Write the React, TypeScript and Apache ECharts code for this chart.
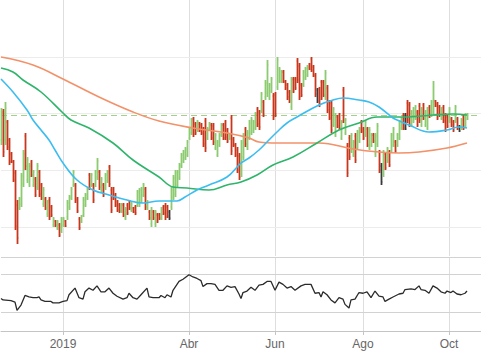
import React, { useEffect, useRef } from "react";
import * as echarts from "echarts";

// ordinal (trading-day) slots; month-start ticks
const SLOT_COUNT = 241;
const TICK_INDEX = [31, 94, 137, 181, 224];
const TICK_LABELS = ["2019", "Abr", "Jun", "Ago", "Oct"];

// [open, high, low, close]
const OHLC: number[][] = [
  [12.0,15.2,11.5,14.6],[14.8,15.1,10.3,10.8],[12.0,15.8,11.5,15.2],[13.8,14.0,11.0,11.3],[12.0,12.2,9.5,9.8],
  [10.6,10.8,9.7,9.9],[9.8,10.0,7.8,8.0],[8.7,9.0,3.0,3.4],[5.5,6.0,1.6,2.2],[5.2,6.3,5.0,6.1],
  [5.6,8.7,5.3,8.4],[7.6,11.0,7.3,10.6],[12.4,12.7,9.0,9.4],[8.0,10.3,7.7,10.0],[7.6,9.7,7.3,9.4],
  [9.8,10.0,8.3,8.5],[7.5,9.0,7.3,8.8],[8.1,8.3,6.3,6.5],[7.3,9.7,7.0,9.4],[8.8,9.0,6.3,6.6],
  [7.5,7.7,6.0,6.2],[5.6,7.3,5.3,7.0],[6.1,6.3,5.0,5.2],[4.6,6.0,4.3,5.8],[6.0,6.3,4.0,4.3],
  [5.3,5.5,4.3,4.5],[3.5,4.3,3.3,4.1],[3.9,4.0,3.3,3.5],[3.2,4.0,3.0,3.8],[3.5,3.7,2.3,2.5],
  [3.0,4.3,2.7,4.1],[3.5,4.3,3.3,4.1],[3.9,4.0,3.3,3.4],[4.3,6.0,4.0,5.7],[5.3,6.5,5.0,6.3],
  [6.2,7.3,6.0,7.1],[7.5,9.0,7.3,8.8],[7.5,7.7,5.7,6.0],[6.1,6.3,4.7,4.9],[4.1,4.3,3.0,3.2],
  [3.8,4.5,3.7,4.4],[4.5,6.3,4.3,6.0],[5.5,6.7,5.3,6.5],[6.2,7.3,6.0,7.1],[8.5,8.7,7.0,7.2],
  [7.5,8.7,7.3,8.5],[7.5,7.7,5.7,6.0],[7.5,9.0,7.3,8.8],[8.3,10.2,8.0,9.9],[8.8,9.0,7.0,7.3],
  [6.9,8.3,6.7,8.1],[7.5,7.7,6.3,6.5],[7.2,8.7,7.0,8.5],[7.9,9.0,7.7,8.8],[9.3,9.5,7.3,7.6],
  [7.0,7.3,4.7,5.0],[7.1,7.3,6.0,6.2],[6.5,6.7,5.3,5.5],[5.8,6.0,4.8,5.0],[5.5,5.7,4.7,4.9],
  [4.9,5.7,4.7,5.5],[5.5,5.7,4.3,4.5],[4.2,5.3,4.0,5.1],[5.5,5.7,4.5,4.7],[5.8,6.0,5.0,5.2],
  [5.0,5.8,4.8,5.6],[5.2,5.3,4.7,4.8],[5.3,5.5,4.5,4.7],[5.5,7.0,5.3,6.8],[5.6,7.2,5.3,7.0],
  [5.9,7.3,5.7,7.1],[6.5,7.7,6.3,7.5],[7.1,7.3,5.0,5.3],[5.2,6.0,5.0,5.8],[4.8,5.0,4.0,4.2],
  [3.6,5.3,3.3,5.0],[4.8,5.0,4.0,4.2],[3.6,5.0,3.3,4.8],[4.5,4.7,3.7,3.9],[4.5,4.7,4.0,4.2],
  [4.2,5.3,4.0,5.1],[5.3,5.5,4.5,4.7],[5.4,5.7,4.0,4.3],[5.3,5.5,4.2,4.4],[4.8,5.0,4.0,4.2],
  [5.3,7.3,5.0,7.0],[6.3,8.5,6.0,8.2],[6.6,9.0,6.3,8.7],[7.5,9.0,7.3,8.8],[8.2,9.7,8.0,9.5],
  [9.4,10.7,9.2,10.5],[9.9,11.0,9.7,10.8],[10.2,11.3,10.0,11.1],[10.5,12.0,10.3,11.8],[12.2,13.3,12.0,13.1],
  [12.7,14.2,12.5,14.0],[14.1,14.3,12.3,12.6],[13.6,13.8,12.5,12.7],[13.0,14.0,12.8,13.8],[13.6,13.8,12.8,13.0],
  [13.5,13.7,12.5,12.7],[13.1,13.3,11.3,11.6],[13.9,14.2,10.8,11.2],[12.2,13.3,12.0,13.1],[13.1,13.8,13.0,13.7],
  [13.5,13.7,12.0,12.2],[13.4,13.7,11.5,11.8],[11.2,12.7,11.0,12.5],[10.5,12.0,10.3,11.8],[11.5,12.7,11.3,12.5],
  [12.5,13.7,12.3,13.5],[13.5,13.7,12.0,12.2],[13.8,14.0,12.0,12.3],[13.0,13.2,11.7,11.9],[12.1,12.7,12.0,12.6],
  [14.2,14.5,10.5,10.9],[12.1,12.3,11.3,11.5],[11.5,11.7,10.3,10.5],[11.0,11.3,8.7,9.0],[10.4,10.7,8.0,8.3],
  [8.6,12.0,8.3,11.7],[10.3,12.7,10.0,12.4],[13.1,13.3,11.3,11.6],[11.3,13.0,11.0,12.7],[12.3,14.0,12.0,13.7],
  [12.7,14.3,12.5,14.0],[12.9,14.0,12.7,13.8],[13.2,14.8,13.0,14.6],[15.1,15.3,13.3,13.6],[14.8,15.0,13.0,13.3],
  [14.9,16.8,14.7,16.6],[15.8,16.0,14.3,14.5],[16.3,18.0,16.0,17.7],[16.7,20.0,16.3,19.5],[16.2,17.7,16.0,17.5],
  [16.9,18.3,16.7,18.1],[16.4,16.7,14.0,14.3],[16.5,16.8,14.3,14.6],[17.3,20.3,17.0,20.0],[17.9,19.3,17.7,19.1],
  [17.9,19.0,17.7,18.8],[18.8,19.0,17.7,17.9],[17.8,18.0,17.0,17.2],[17.5,17.7,16.0,16.3],[16.8,17.0,15.7,15.9],
  [15.3,18.3,15.0,18.0],[18.1,18.3,16.7,16.9],[18.1,18.3,17.0,17.2],[19.9,20.2,17.7,18.0],[19.4,19.7,16.0,16.3],
  [17.5,17.7,16.3,16.5],[17.5,19.0,17.3,18.8],[18.2,19.3,18.0,19.1],[18.5,19.5,18.3,19.3],[19.6,19.7,19.0,19.1],
  [20.1,20.3,18.8,19.0],[19.3,19.5,18.3,18.5],[18.4,18.7,16.3,16.6],[17.0,17.2,15.7,15.9],[17.1,17.3,15.3,15.6],
  [17.8,18.0,16.0,16.2],[17.8,18.0,16.3,16.5],[16.3,19.0,16.0,18.7],[17.2,17.5,14.7,15.0],[15.8,16.0,14.0,14.2],
  [15.7,16.0,12.7,13.0],[13.5,15.3,13.3,15.1],[12.5,14.7,12.3,14.4],[14.3,14.5,13.2,13.4],[14.5,14.7,13.0,13.2],
  [12.2,14.0,12.0,13.8],[17.0,17.3,13.7,14.0],[12.7,14.2,12.5,14.0],[11.4,11.7,8.3,8.7],[12.2,12.5,10.0,10.3],
  [10.9,12.7,10.7,12.5],[10.5,12.0,10.3,11.8],[12.4,12.7,9.7,10.0],[11.2,13.0,11.0,12.8],[11.9,13.3,11.7,13.1],
  [13.8,14.0,12.7,12.9],[13.1,13.3,12.0,12.2],[12.5,14.0,12.3,13.8],[13.1,13.3,11.3,11.5],[11.2,13.3,11.0,13.0],
  [11.5,12.7,11.3,12.5],[12.5,12.7,11.7,11.9],[10.6,12.7,10.3,12.4],[11.6,13.7,11.3,13.4],[10.8,11.0,8.7,9.0],
  [9.4,9.7,7.5,7.8],[8.6,11.0,8.3,10.7],[10.6,10.8,9.0,9.2],[9.9,11.3,9.7,11.1],[10.8,11.0,9.3,9.5],
  [10.9,12.7,10.7,12.5],[11.5,13.3,11.3,13.1],[11.8,12.0,10.7,10.9],[11.5,12.7,11.3,12.5],[12.2,14.0,12.0,13.8],
  [13.2,14.3,13.0,14.1],[14.5,14.7,13.0,13.2],[14.5,14.7,13.0,13.1],[15.7,16.0,13.7,14.0],[15.5,15.8,13.3,13.6],
  [13.5,15.0,13.3,14.8],[13.9,15.3,13.7,15.1],[14.2,15.5,14.0,15.3],[14.8,15.0,13.3,13.5],[15.4,15.7,13.7,14.0],
  [13.5,15.3,13.3,15.1],[15.5,15.7,14.0,14.2],[13.5,15.0,13.3,14.8],[13.2,15.3,13.0,15.0],[15.3,15.5,14.2,14.4],
  [14.5,16.0,14.3,15.8],[14.8,17.9,14.5,16.0],[15.9,16.0,15.3,15.4],[15.6,15.8,14.0,14.2],[15.3,15.5,14.3,14.5],
  [14.2,15.3,14.0,15.1],[15.3,15.5,13.7,13.9],[14.5,14.7,12.8,13.0],[14.3,14.5,13.2,13.4],[13.9,15.3,13.7,15.1],
  [14.1,14.3,13.3,13.5],[13.8,14.0,12.8,13.0],[13.9,15.5,13.7,15.3],[14.1,14.3,13.0,13.2],[13.4,13.5,12.8,12.9],
  [13.2,14.2,13.0,14.0],[14.3,14.5,13.0,13.2],[13.4,14.7,13.2,14.5],[14.1,14.7,14.0,14.5],
];
const DARK_BARS = [84, 158, 190, 202, 229];

// moving averages: [slot, value]
const SMA_FAST = [
  [0,18.1],[6,16.8],[13,15.0],[16,14.0],[20,13.0],[24,12.0],[27,11.0],[31,9.7],[38,8.0],[46,7.0],
  [54,6.5],[63,6.0],[71,5.7],[79,5.9],[88,5.9],[92,6.3],[98,7.0],[104,7.5],[113,8.3],[120,9.7],
  [124,10.2],[129,11.0],[133,11.8],[138,12.8],[143,13.7],[148,14.3],[159,15.5],[166,16.0],[171,16.2],
  [179,16.0],[184,15.8],[189,15.3],[196,14.2],[198,14.0],[204,13.5],[214,12.8],[223,13.0],[229,13.3],[233,13.2],
];
const SMA_MID = [
  [0,19.2],[6,18.8],[11,18.0],[20,16.8],[31,14.7],[35,14.0],[44,13.2],[56,11.7],[66,10.0],[79,8.3],
  [86,7.3],[93,7.2],[104,7.0],[113,7.5],[120,7.8],[128,8.5],[136,9.5],[146,10.3],[158,11.7],[169,13.0],
  [179,13.7],[188,14.3],[201,14.3],[216,14.5],[226,14.6],[233,14.5],
];
const SMA_SLOW = [
  [0,20.3],[16,19.5],[31,18.1],[49,16.3],[66,14.8],[79,13.9],[96,13.2],[113,12.7],[124,12.2],[129,11.8],
  [138,11.7],[159,11.7],[176,11.1],[189,10.8],[199,10.7],[209,10.8],[223,11.2],[233,11.7],
];
const LAST_PRICE = 14.5;
const PRICE_GRID = [3.3, 9.0, 14.7, 20.3];

// oscillator (lower pane): [slot, value]
const OSC = [
  [0,44],[1,42],[5,41],[7,39],[8,28],[10,35],[12,48],[14,46],[16,45],[18,45],[19,46],[20,42],[22,40],
  [25,40],[26,38],[29,38],[31,40],[33,41],[34,49],[37,58],[39,45],[41,43],[42,53],[44,58],[46,55],
  [48,61],[50,53],[52,53],[54,58],[56,51],[58,47],[61,43],[63,45],[64,51],[66,45],[68,43],[70,49],
  [73,58],[74,46],[76,45],[79,45],[80,48],[82,45],[83,49],[85,46],[86,55],[89,67],[91,70],[94,76],
  [96,73],[98,71],[100,68],[101,60],[103,64],[105,64],[107,63],[109,55],[111,55],[113,61],[115,59],
  [117,60],[119,50],[120,44],[121,52],[123,54],[125,59],[127,55],[129,62],[131,63],[133,67],[135,67],
  [137,55],[139,66],[141,63],[143,58],[145,60],[147,55],[150,61],[152,63],[155,63],[157,51],[159,52],
  [160,46],[161,53],[163,49],[165,42],[167,38],[169,45],[171,43],[172,36],[174,31],[175,42],[177,43],
  [179,52],[181,51],[183,53],[185,45],[187,54],[189,47],[191,46],[192,40],[194,43],[196,46],[199,50],
  [201,51],[202,56],[205,57],[207,56],[209,61],[210,56],[212,55],[214,51],[216,61],[218,58],[220,53],
  [222,51],[223,54],[225,52],[226,54],[228,50],[230,49],[232,51],[233,54],
];
const OSC_GRID = [26, 77, 100];

const UP = "#8ccb70";
const DOWN = "#c8361b";
const DARK = "#3a3a3a";

export default function App() {
  const ref = useRef<HTMLDivElement>(null);
  useEffect(() => {
    if (!ref.current) return;
    const chart = echarts.init(ref.current, undefined, { renderer: "svg" });
    const cats = Array.from({ length: SLOT_COUNT }, (_, i) => String(i));
    const isTick = (i: number) => TICK_INDEX.includes(i);
    const bars = OHLC.map((r, i) => [i, r[0], r[1], r[2], r[3], DARK_BARS.includes(i) ? 1 : 0]);
    const font = "'Liberation Sans', Arial, Helvetica, sans-serif";

    chart.setOption({
      animation: false,
      backgroundColor: "#ffffff",
      grid: [
        { left: 1, right: 0, top: 0, height: 256 },
        { left: 1, right: 0, top: 257, height: 74 },
      ],
      xAxis: [
        {
          type: "category", gridIndex: 0, data: cats, boundaryGap: false,
          axisLine: { show: false }, axisTick: { show: false }, axisLabel: { show: false },
          splitLine: { show: true, interval: (i: number) => isTick(i), lineStyle: { color: "#dedede", width: 1 } },
        },
        {
          type: "category", gridIndex: 1, data: cats, boundaryGap: false,
          axisLine: { show: true, lineStyle: { color: "#c4c4c4", width: 1 } },
          axisTick: { show: true, interval: (i: number) => isTick(i), length: 4, lineStyle: { color: "#c4c4c4" } },
          axisLabel: {
            show: true, interval: (i: number) => isTick(i), color: "#666666", fontSize: 12, margin: 7,
            fontFamily: font,
            formatter: (v: string) => {
              const k = TICK_INDEX.indexOf(Number(v));
              return k >= 0 ? TICK_LABELS[k] : "";
            },
          },
          splitLine: { show: true, interval: (i: number) => isTick(i), lineStyle: { color: "#dedede", width: 1 } },
        },
      ],
      yAxis: [
        { type: "value", gridIndex: 0, min: 0.4, max: 26, axisLine: { show: false }, axisTick: { show: false }, axisLabel: { show: false }, splitLine: { show: false } },
        { type: "value", gridIndex: 1, min: 0, max: 100, axisLine: { show: false }, axisTick: { show: false }, axisLabel: { show: false }, splitLine: { show: false } },
      ],
      series: [
        {
          type: "custom", name: "OHLC", xAxisIndex: 0, yAxisIndex: 0, z: 2,
          data: bars,
          encode: { x: 0, y: [1, 2, 3, 4] },
          renderItem: (_p: any, api: any) => {
            const idx = api.value(0);
            const o = api.value(1), h = api.value(2), l = api.value(3), c = api.value(4);
            const dark = api.value(5);
            const pH = api.coord([idx, h]);
            const pL = api.coord([idx, l]);
            const pO = api.coord([idx, o]);
            const pC = api.coord([idx, c]);
            const color = dark ? DARK : c >= o ? UP : DOWN;
            const x = Math.round(pH[0]) + 0.5;
            return {
              type: "group",
              children: [
                { type: "line", shape: { x1: x, y1: pH[1], x2: x, y2: pL[1] }, style: { stroke: color, lineWidth: 1.8 } },
                { type: "line", shape: { x1: x - 1, y1: pO[1], x2: x, y2: pO[1] }, style: { stroke: color, lineWidth: 1, opacity: 0.6 } },
                { type: "line", shape: { x1: x, y1: pC[1], x2: x + 1, y2: pC[1] }, style: { stroke: color, lineWidth: 1, opacity: 0.6 } },
              ],
            };
          },
        },
        {
          type: "line", name: "SMA200", xAxisIndex: 0, yAxisIndex: 0, z: 3,
          data: SMA_SLOW, smooth: 0.4, showSymbol: false, silent: true,
          lineStyle: { color: "#f39169", width: 1.6 },
          markLine: {
            silent: true, z: 1, symbol: ["none", "none"], label: { show: false }, animation: false,
            data: [
              ...PRICE_GRID.map((v) => ({ yAxis: v, lineStyle: { color: "#ececec", type: "solid", width: 1 } })),
              { yAxis: LAST_PRICE, lineStyle: { color: "#9fd385", type: [6, 4], width: 1 } },
            ],
          },
        },
        {
          type: "line", name: "SMA50", xAxisIndex: 0, yAxisIndex: 0, z: 3,
          data: SMA_MID, smooth: 0.4, showSymbol: false, silent: true,
          lineStyle: { color: "#2fb56b", width: 1.6 },
        },
        {
          type: "line", name: "SMA20", xAxisIndex: 0, yAxisIndex: 0, z: 3,
          data: SMA_FAST, smooth: 0.4, showSymbol: false, silent: true,
          lineStyle: { color: "#3cbdf0", width: 1.6 },
        },
        {
          type: "line", name: "Osc", xAxisIndex: 1, yAxisIndex: 1, z: 3,
          data: OSC, showSymbol: false, silent: true,
          lineStyle: { color: "#2b2b2b", width: 1.3 },
          markLine: {
            silent: true, z: 1, symbol: ["none", "none"], label: { show: false }, animation: false,
            data: OSC_GRID.map((v) => ({ yAxis: v, lineStyle: { color: "#d2d2d2", type: "solid", width: 1 } })),
          },
        },
      ],
    });
    return () => chart.dispose();
  }, []);
  return (
    <div
      ref={ref}
      style={{ position: "fixed", left: 0, top: 0, width: 481, height: 356, background: "#fff" }}
    />
  );
}
